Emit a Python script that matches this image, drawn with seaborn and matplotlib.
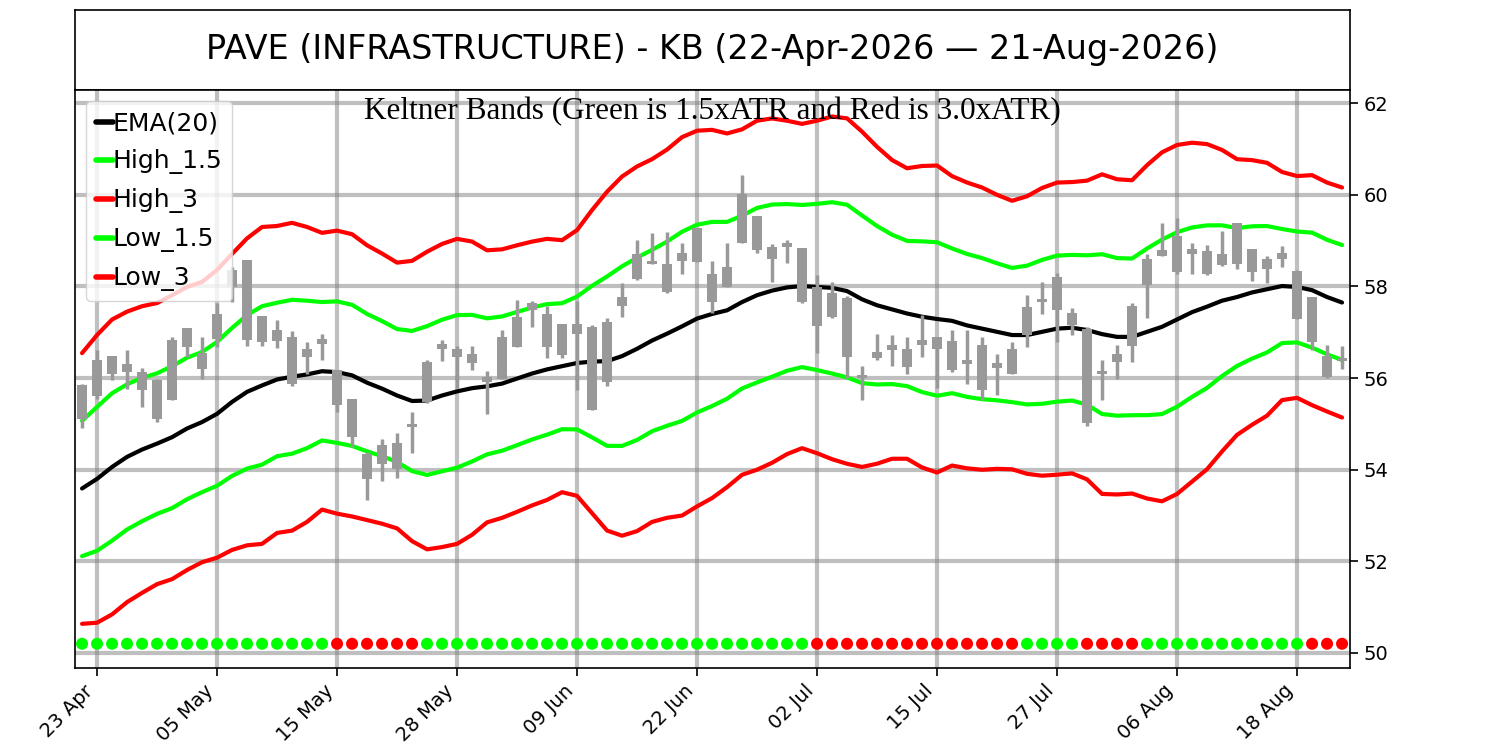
import numpy as np
import pandas as pd
import matplotlib
matplotlib.use("Agg")
import matplotlib.pyplot as plt
import seaborn as sns

# ---------------- data ----------------
title = "PAVE (INFRASTRUCTURE) - KB (22-Apr-2026 \u2014 21-Aug-2026)"
subtitle = "Keltner Bands (Green is 1.5xATR and Red is 3.0xATR)"
holidays = ["2026-05-25", "2026-06-19", "2026-07-03"]

high = [55.88, 56.62, 56.48, 56.62, 56.21, 55.99, 56.89, 57.10, 56.89, 57.63,
        58.43, 58.58, 57.35, 57.26, 57.03, 56.78, 56.97, 56.17, 55.55, 54.39,
        54.68, 54.80, 55.26, 56.39, 56.84, 56.71, 56.70, 56.15, 57.04, 57.70,
        57.68, 57.57, 57.19, 57.69, 57.15, 57.32, 58.08, 59.01, 59.16, 59.19,
        58.94, 59.28, 58.56, 58.94, 60.43, 59.54, 58.93, 59.01, 58.83, 58.25,
        58.09, 57.79, 56.26, 56.97, 56.94, 56.90, 57.37, 56.89, 57.06, 57.05,
        56.90, 56.52, 56.79, 57.81, 58.09, 58.29, 57.54, 57.11, 56.39, 56.72,
        57.64, 58.72, 59.38, 59.49, 58.94, 58.90, 59.21, 59.39, 58.81, 58.66,
        58.88, 58.37, 57.76, 56.72, 56.70]
body_hi = [55.84, 56.39, 56.48, 56.30, 56.13, 55.95, 56.83, 57.10, 56.54, 57.40,
           58.36, 58.58, 57.35, 57.06, 56.90, 56.64, 56.86, 56.17, 55.55, 54.35,
           54.53, 54.58, 54.97, 56.35, 56.75, 56.64, 56.52, 56.03, 56.90, 57.34,
           57.63, 57.40, 57.19, 57.19, 57.12, 57.23, 57.77, 58.72, 58.54, 58.49,
           58.74, 59.28, 58.28, 58.43, 60.02, 59.54, 58.87, 58.95, 58.83, 57.99,
           57.85, 57.74, 56.04, 56.57, 56.72, 56.64, 56.84, 56.89, 56.81, 56.40,
           56.72, 56.32, 56.64, 57.55, 57.70, 58.20, 57.42, 57.08, 56.14, 56.53,
           57.57, 58.61, 58.79, 59.10, 58.81, 58.78, 58.72, 59.38, 58.81, 58.61,
           58.74, 58.34, 57.76, 56.48, 56.42]
body_lo = [55.11, 55.62, 56.10, 56.13, 55.73, 55.11, 55.52, 56.68, 56.19, 56.86,
           57.99, 56.83, 56.79, 56.81, 55.88, 56.46, 56.75, 55.41, 54.71, 53.80,
           54.13, 54.02, 54.93, 55.48, 56.64, 56.46, 56.33, 55.92, 55.99, 56.68,
           57.48, 56.68, 56.50, 56.97, 55.31, 55.92, 57.57, 58.17, 58.50, 57.88,
           58.56, 58.54, 57.66, 57.99, 58.94, 58.80, 58.59, 58.87, 57.66, 57.13,
           57.34, 56.45, 56.00, 56.43, 56.61, 56.24, 56.72, 56.64, 56.17, 56.30,
           55.73, 56.23, 56.08, 56.94, 57.66, 57.48, 57.15, 55.02, 56.10, 56.35,
           56.70, 58.03, 58.66, 58.32, 58.71, 58.28, 58.47, 58.49, 58.32, 58.39,
           58.59, 57.30, 56.79, 56.03, 56.38]
low = [54.92, 55.55, 55.95, 55.76, 55.37, 55.04, 55.52, 56.46, 55.97, 56.68,
       57.66, 56.70, 56.70, 56.65, 55.83, 56.10, 56.40, 55.26, 54.50, 53.34,
       53.75, 53.82, 54.36, 55.46, 56.38, 55.79, 56.17, 55.22, 55.97, 56.67,
       57.12, 56.43, 56.43, 55.73, 55.31, 55.83, 57.34, 58.15, 58.49, 57.86,
       58.27, 58.54, 57.42, 57.98, 58.94, 58.74, 58.10, 58.51, 57.65, 56.55,
       57.32, 56.01, 55.53, 56.40, 56.26, 56.10, 56.46, 55.78, 56.13, 55.88,
       55.53, 55.63, 56.08, 56.67, 57.40, 56.79, 56.95, 54.95, 55.53, 55.97,
       56.35, 57.32, 58.66, 58.28, 58.28, 58.25, 58.45, 58.38, 58.13, 58.08,
       58.42, 57.30, 56.62, 56.01, 56.19]

ema20 = [53.59, 53.80, 54.06, 54.28, 54.44, 54.57, 54.71, 54.90, 55.04, 55.22,
         55.48, 55.70, 55.84, 55.97, 56.03, 56.08, 56.15, 56.13, 56.06, 55.90,
         55.77, 55.62, 55.50, 55.51, 55.62, 55.71, 55.78, 55.82, 55.88, 55.99,
         56.10, 56.19, 56.26, 56.33, 56.36, 56.37, 56.48, 56.64, 56.82, 56.97,
         57.13, 57.30, 57.40, 57.48, 57.66, 57.81, 57.91, 57.98, 58.01, 57.99,
         57.97, 57.90, 57.72, 57.59, 57.50, 57.41, 57.34, 57.29, 57.25, 57.15,
         57.08, 57.01, 56.94, 56.94, 57.01, 57.08, 57.10, 57.05, 56.96, 56.90,
         56.90, 57.01, 57.12, 57.28, 57.44, 57.56, 57.69, 57.77, 57.87, 57.94,
         58.01, 57.99, 57.92, 57.77, 57.65]
atr = [0.985, 1.047, 1.073, 1.057, 1.043, 1.023, 1.033, 1.030, 1.020, 1.047,
       1.077, 1.117, 1.153, 1.117, 1.120, 1.073, 1.007, 1.030, 1.027, 1.000,
       0.983, 0.967, 1.020, 1.083, 1.103, 1.110, 1.067, 0.990, 0.977, 0.970,
       0.960, 0.950, 0.917, 0.967, 1.103, 1.233, 1.307, 1.327, 1.320, 1.340,
       1.377, 1.367, 1.340, 1.287, 1.257, 1.270, 1.253, 1.213, 1.180, 1.210,
       1.247, 1.257, 1.220, 1.153, 1.087, 1.057, 1.097, 1.117, 1.053, 1.040,
       1.027, 0.997, 0.977, 1.010, 1.047, 1.063, 1.060, 1.087, 1.163, 1.147,
       1.140, 1.213, 1.270, 1.270, 1.233, 1.183, 1.097, 1.003, 0.963, 0.920,
       0.830, 0.807, 0.837, 0.833, 0.837]

signal = (["G"] * 17 + ["R"] * 6 + ["G"] * 26 + ["R"] * 14 + ["G"] * 4 +
          ["R"] * 4 + ["G"] * 11 + ["R"] * 3)
signal_level = 50.2
y_ticks = [50, 52, 54, 56, 58, 60, 62]

# ---------------- derived frame ----------------
dates = pd.bdate_range("2026-04-22", "2026-08-21", freq="C", holidays=holidays)
idx = np.arange(len(dates))
df = pd.DataFrame({"i": idx, "high": high, "low": low, "bhi": body_hi, "blo": body_lo,
                   "ema": ema20, "atr": atr, "sig": signal})
df["High_1.5"] = df["ema"] + 1.5 * df["atr"]
df["High_3"] = df["ema"] + 3.0 * df["atr"]
df["Low_1.5"] = df["ema"] - 1.5 * df["atr"]
df["Low_3"] = df["ema"] - 3.0 * df["atr"]
df["lvl"] = signal_level

# ---------------- figure ----------------
sns.set_theme(style="white")
plt.rcParams["font.family"] = ["DejaVu Sans"]
plt.rcParams["text.color"] = "black"

fig = plt.figure(figsize=(15, 7.5), dpi=100)
tax = fig.add_axes([0.05, 0.88, 0.85, 0.1067])
tax.set_xticks([]); tax.set_yticks([])
for s in tax.spines.values():
    s.set_color("black"); s.set_linewidth(1.2)
tax.text(0.5, 0.5, title, ha="center", va="center", fontsize=24, color="black",
         transform=tax.transAxes)

ax = fig.add_axes([0.05, 0.1093, 0.85, 0.7707])
ax.set_axisbelow(True)
ax.grid(True, color="gray", alpha=0.5, linewidth=3)

sns.lineplot(data=df, x="i", y="ema", color="black", lw=3, label="EMA(20)", ax=ax, zorder=2)
sns.lineplot(data=df, x="i", y="High_1.5", color="lime", lw=3, label="High_1.5", ax=ax, zorder=2)
sns.lineplot(data=df, x="i", y="High_3", color="red", lw=3, label="High_3", ax=ax, zorder=2)
sns.lineplot(data=df, x="i", y="Low_1.5", color="lime", lw=3, label="Low_1.5", ax=ax, zorder=2)
sns.lineplot(data=df, x="i", y="Low_3", color="red", lw=3, label="Low_3", ax=ax, zorder=2)

# candlesticks (all grey)
candle_col = "#999999"
ax.vlines(df["i"], df["low"], df["high"], color=candle_col, lw=2.5, zorder=3)
ax.bar(df["i"], np.maximum(df["bhi"] - df["blo"], 0.06), bottom=df["blo"], width=0.68,
       color=candle_col, zorder=3, linewidth=0)

sns.scatterplot(data=df, x="i", y="lvl", hue="sig", palette={"G": "lime", "R": "red"},
                s=75, edgecolor="none", legend=False, ax=ax, zorder=4)

ax.set_xlim(-0.47, 84.53)
ax.set_ylim(49.67, 62.29)
ax.yaxis.tick_right()
ax.set_yticks(y_ticks)
ax.set_xticks(idx[1::8])
ax.set_xticklabels(dates[1::8].strftime("%d %b"), rotation=45, ha="right")
ax.tick_params(axis="both", labelsize=14, length=6, width=1.2, colors="black",
               bottom=True, right=True, left=False)
ax.set_xlabel(""); ax.set_ylabel("")
for s in ax.spines.values():
    s.set_color("black"); s.set_linewidth(1.2)

ax.text(0.5, 0.988, subtitle, ha="center", va="top", fontsize=22.5, color="black",
        family=["Liberation Serif", "DejaVu Serif"], transform=ax.transAxes, zorder=6)

leg = ax.legend(loc="upper left", fontsize=18, handlelength=0.65, handletextpad=0.0,
                labelspacing=0.56, borderaxespad=0.45, frameon=True)
for t in leg.get_texts():
    t.set_color("black")
for h in leg.get_lines():
    h.set_linewidth(4)

fig.savefig("out.png", dpi=100)
